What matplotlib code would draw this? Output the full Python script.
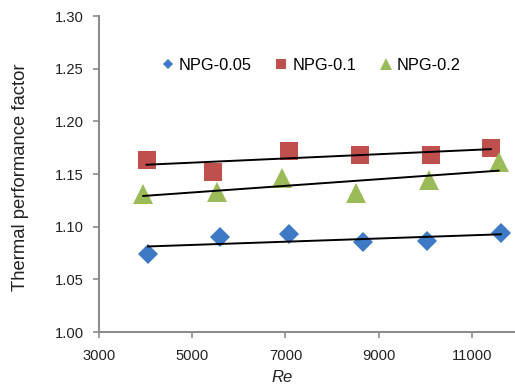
import numpy as np
import matplotlib
matplotlib.use("Agg")
import matplotlib.pyplot as plt

plt.rcParams['font.family'] = ['Liberation Sans', 'DejaVu Sans']

# datos
re_005 = [4050, 5600, 7080, 8660, 10030, 11620]
tpf_005 = [1.074, 1.090, 1.093, 1.085, 1.086, 1.094]

re_01 = [4020, 5450, 7085, 8600, 10115, 11405]
tpf_01 = [1.163, 1.152, 1.172, 1.168, 1.168, 1.175]

re_02 = [3950, 5525, 6930, 8515, 10080, 11570]
tpf_02 = [1.131, 1.133, 1.146, 1.132, 1.144, 1.161]

labels = ['NPG-0.05', 'NPG-0.1', 'NPG-0.2']
colors = ['#3D79C4', '#C0504D', '#9BBB59']
markers = ['D', 's', '^']
sizes = [9.8, 13, 14.5]

x_ticks = [3000, 5000, 7000, 9000, 11000]
y_ticks = [1.00, 1.05, 1.10, 1.15, 1.20, 1.25, 1.30]

W, H = 515, 388
fig = plt.figure(figsize=(W / 100, H / 100), dpi=100)
ax = fig.add_axes([99 / W, 56 / H, 419.6 / W, 316 / H])

series = [(re_005, tpf_005), (re_01, tpf_01), (re_02, tpf_02)]
for (x, y), lab, c, m, s in zip(series, labels, colors, markers, sizes):
    ax.plot(x, y, linestyle='none', marker=m, markersize=s, color=c,
            markeredgewidth=0, label=lab, zorder=3)
    # linea de tendencia lineal
    k, b = np.polyfit(x, y, 1)
    xx = np.array([min(x), max(x)])
    ax.plot(xx, k * xx + b, color='black', linewidth=1.4, zorder=4)

ax.set_xlim(3000, 12000)
ax.set_ylim(1.00, 1.30)
ax.set_xticks(x_ticks)
ax.set_yticks(y_ticks)
ax.set_yticklabels([f'{v:.2f}' for v in y_ticks])

for sp in ['top', 'right']:
    ax.spines[sp].set_visible(False)
for sp in ['left', 'bottom']:
    ax.spines[sp].set_color('#8C8C8C')
    ax.spines[sp].set_linewidth(1.5)
ax.tick_params(axis='both', direction='out', color='#8C8C8C', width=1.2,
               length=4, labelsize=10.6, labelcolor='#222222')
ax.tick_params(axis='x', pad=8)
ax.tick_params(axis='y', pad=7)

fig.text(20.5 / W, 1 - 177 / H, 'Thermal performance factor', fontsize=13.3,
         rotation=90, ha='center', va='center', color='#222222')
fig.text(282 / W, 1 - 378 / H, 'Re', fontsize=12, style='italic',
         ha='center', va='center', color='#222222')

leg = ax.legend(loc='center left', bbox_to_anchor=((163 - 99) / 419.6, (323 - 56) / 316),
                ncol=3, frameon=False, fontsize=11.8, markerscale=0.55,
                borderpad=0, borderaxespad=0,
                handlelength=0.6, handletextpad=0.37, columnspacing=1.5)

fig.savefig('out.png', dpi=100)
